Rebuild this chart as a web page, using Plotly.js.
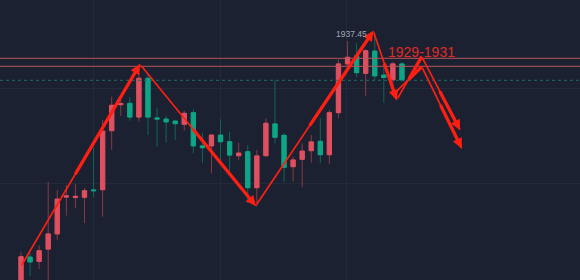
<!DOCTYPE html>
<html>
<head>
<meta charset="utf-8">
<script src="https://cdn.plot.ly/plotly-3.0.1.min.js"></script>
<style>html,body{margin:0;padding:0;background:#1b2130;}#chart{width:580px;height:280px;}</style>
</head>
<body>
<div id="chart"></div>
<script>
// Candle data (index-based x)
const openP  = [1874.3,1881.3,1880.2,1883.3,1887.1,1896.3,1896.2,1896.25,1898.1,1898.15,1912.9,1919.4,1919.75,1916.3,1926.0,1916.1,1915.8,1915.3,1914.5,1917.4,1909.1,1909.1,1911.8,1910.15,1906.65,1907.65,1898.65,1906.65,1914.6,1911.75,1903.9,1905.75,1907.9,1910.25,1906.9,1917.4,1929.6,1931.6,1927.25,1932.8,1926.8,1925.6,1929.6];
const highP  = [1882.65,1882.4,1884.2,1900.1,1898.1,1899.3,1899.6,1898.6,1908.6,1915.6,1921.4,1921.3,1921.3,1927.3,1927.1,1918.65,1916.6,1915.45,1917.9,1918.25,1912.3,1912.0,1915.75,1912.65,1909.9,1909.3,1908.1,1916.0,1925.6,1912.25,1906.4,1909.75,1911.8,1916.0,1918.1,1930.75,1935.3,1934.75,1933.25,1937.45,1929.75,1930.1,1930.1];
const lowP   = [1873.1,1876.6,1878.3,1874.3,1885.6,1891.7,1893.6,1889.8,1896.3,1891.4,1908.1,1916.6,1915.4,1915.2,1911.8,1908.9,1909.9,1910.6,1912.9,1907.25,1904.75,1902.25,1905.15,1902.25,1905.6,1894.8,1893.9,1906.4,1909.75,1900.15,1900.15,1898.75,1904.9,1904.75,1904.6,1916.0,1929.1,1926.25,1921.6,1925.6,1919.9,1923.1,1925.1];
const closeP = [1881.4,1880.1,1882.9,1887.1,1895.8,1896.6,1896.5,1897.9,1897.9,1912.8,1919.25,1919.7,1916.3,1926.0,1916.3,1915.8,1915.1,1914.65,1917.25,1909.1,1908.65,1911.8,1910.15,1906.8,1907.3,1898.65,1906.6,1914.75,1911.25,1903.75,1905.6,1907.8,1910.1,1906.9,1917.4,1929.6,1931.25,1927.4,1932.9,1926.6,1926.2,1929.6,1925.6];
const idx = openP.map((_, i) => i);

// Levels
const zoneLevels = [1929, 1931];
const lastPrice = 1925.5;
const highLabel = "1937.45";
const highIndex = 39;
const zoneLabel = "1929-1931";
const zoneLabelX = 44.2;
const zoneLabelY = 1932.6;

// Drawn arrows: tail -> head, in index / price units
const arrowTailX = [-0.03, 13.12, 25.88, 38.84, 41.42, 44.18, 41.34, 44.18];
const arrowTailY = [1878.9, 1929.5, 1894.15, 1937.8, 1920.6, 1931.4, 1922.6, 1928.9];
const arrowHeadX = [13.12, 25.88, 38.84, 41.42, 44.18, 48.4, 44.18, 48.59];
const arrowHeadY = [1929.5, 1894.15, 1937.8, 1920.6, 1931.4, 1913.1, 1928.9, 1908.5];
const arrowHasHead = [1, 1, 1, 1, 0, 1, 0, 1];

const upBody = '#de505f', downBody = '#0ea587';
const upWick = '#8a3947', downWick = '#0e675a';
const arrowColor = '#ff1f12';

const bodyHigh = openP.map((o, i) => Math.max(o, closeP[i]));
const bodyLow = openP.map((o, i) => Math.min(o, closeP[i]));

const wicks = {
  type: 'candlestick', x: idx, open: openP, high: highP, low: lowP, close: closeP,
  increasing: {line: {color: upWick, width: 1}, fillcolor: upWick},
  decreasing: {line: {color: downWick, width: 1}, fillcolor: downWick},
  hoverinfo: 'skip', showlegend: false
};
const bodies = {
  type: 'candlestick', x: idx, open: openP, high: bodyHigh, low: bodyLow, close: closeP,
  increasing: {line: {color: upBody, width: 1}, fillcolor: upBody},
  decreasing: {line: {color: downBody, width: 1}, fillcolor: downBody},
  hoverinfo: 'skip', showlegend: false
};

const shapes = zoneLevels.map(v => ({
  type: 'line', xref: 'paper', x0: 0, x1: 1, yref: 'y', y0: v, y1: v,
  line: {color: '#b9545b', width: 1}
}));
shapes.push({type: 'line', xref: 'paper', x0: 0, x1: 1, yref: 'y', y0: lastPrice, y1: lastPrice,
  line: {color: '#1a6e62', width: 1, dash: 'dot'}});

const annotations = [];
// thin full-length stroke
arrowHeadX.forEach((hx, i) => {
  annotations.push({
    x: hx, y: arrowHeadY[i], ax: arrowTailX[i], ay: arrowTailY[i],
    xref: 'x', yref: 'y', axref: 'x', ayref: 'y', text: '',
    showarrow: true, arrowhead: 0, arrowwidth: 1.7,
    arrowcolor: arrowColor, standoff: 0, startstandoff: 0
  });
});
// thicker stroke on the second half, with head
arrowHeadX.forEach((hx, i) => {
  const mx = arrowTailX[i] + (hx - arrowTailX[i]) * 0.45;
  const my = arrowTailY[i] + (arrowHeadY[i] - arrowTailY[i]) * 0.45;
  annotations.push({
    x: hx, y: arrowHeadY[i], ax: mx, ay: my,
    xref: 'x', yref: 'y', axref: 'x', ayref: 'y', text: '',
    showarrow: true, arrowhead: arrowHasHead[i] ? 2 : 0, arrowsize: 0.6, arrowwidth: 3.3,
    arrowcolor: arrowColor, standoff: 0, startstandoff: 0
  });
});
annotations.push({x: highIndex, y: highP[highIndex], xref: 'x', yref: 'y', text: highLabel,
  showarrow: false, xanchor: 'right', yanchor: 'middle', xshift: -6, yshift: -1,
  font: {family: 'Liberation Sans', size: 8.5, color: '#a3a8b3'}});
annotations.push({x: zoneLabelX, y: zoneLabelY, xref: 'x', yref: 'y', text: zoneLabel,
  showarrow: false, xanchor: 'center', yanchor: 'middle',
  font: {family: 'Liberation Sans', size: 14, color: '#e02a24'}});

const layout = {
  width: 580, height: 280,
  margin: {l: 0, r: 0, t: 0, b: 0},
  paper_bgcolor: '#1b2130', plot_bgcolor: '#1b2130',
  showlegend: false,
  boxgap: 0.33,
  xaxis: {range: [-2.315, 61.63], showticklabels: false, zeroline: false,
    tickvals: [7.94, 21.94, 35.94], showgrid: true, gridcolor: '#232a39', gridwidth: 1,
    rangeslider: {visible: false}, fixedrange: true, showline: false, ticks: ''},
  yaxis: {range: [1875.575, 1945.575], showticklabels: false, zeroline: false,
    tickvals: [1899.6, 1923.35], showgrid: true, gridcolor: '#232a39', gridwidth: 1,
    fixedrange: true, showline: false, ticks: ''},
  shapes: shapes,
  annotations: annotations
};

Plotly.newPlot('chart', [wicks, bodies], layout, {displayModeBar: false, staticPlot: true});
</script>
</body>
</html>
